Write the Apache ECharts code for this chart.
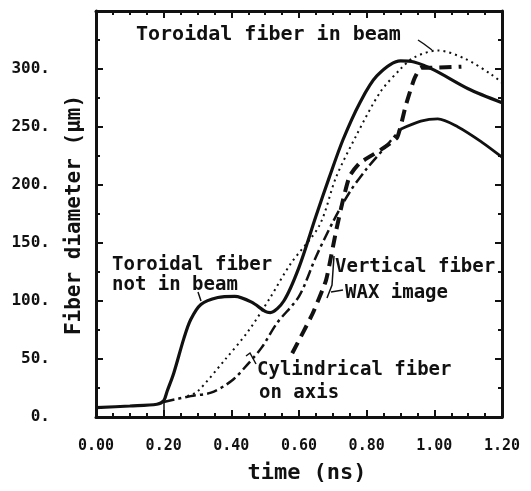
<!DOCTYPE html>
<html>
<head>
<meta charset="utf-8">
<script src="https://cdn.jsdelivr.net/npm/echarts@6/dist/echarts.min.js"></script>
<style>
  html, body { margin: 0; padding: 0; background: #fff; }
  #chart { width: 531px; height: 491px; }
</style>
</head>
<body>
<div id="chart"></div>
<script>
// tick labels
const xTicks = [0, 0.2, 0.4, 0.6, 0.8, 1.0, 1.2];
const yTicks = [0, 50, 100, 150, 200, 250, 300];

// Toroidal fiber not in beam (solid)
const notInBeamT = [0, 0.1, 0.18, 0.2, 0.21, 0.23, 0.26, 0.28, 0.31, 0.36, 0.41, 0.46, 0.5, 0.515, 0.555, 0.6, 0.65, 0.69, 0.73, 0.78, 0.83, 0.9, 0.94, 1.0, 1.1, 1.2];
const notInBeamD = [8, 9.5, 11, 14, 22, 38, 68, 84, 97, 103, 104, 99, 91, 90, 100, 129, 173, 207, 239, 271, 294, 307, 306, 299, 283, 271];

// Toroidal fiber in beam (dotted)
const inBeamT = [0.27, 0.3, 0.38, 0.45, 0.515, 0.575, 0.66, 0.71, 0.77, 0.84, 0.9, 0.94, 1.01, 1.09, 1.17, 1.2];
const inBeamD = [18, 22, 49, 74, 103, 132, 165, 207, 243, 280, 300, 310, 316, 309, 295, 288];

// Cylindrical fiber on axis (dash-dot, then solid)
const cylT = [0.2, 0.28, 0.34, 0.4, 0.45, 0.49, 0.535, 0.6, 0.65, 0.7, 0.75, 0.8, 0.85, 0.9];
const cylD = [13, 18, 21, 31, 46, 60, 81, 104, 138, 168, 194, 214, 231, 248];
const cylEndT = [0.9, 0.96, 1.01, 1.07, 1.14, 1.2];
const cylEndD = [248, 255, 257, 250, 237, 224];

// Vertical fiber WAX image (heavy dashes)
const waxT = [0.58, 0.64, 0.68, 0.71, 0.73, 0.75, 0.78, 0.84, 0.89, 0.915, 0.94, 0.96, 0.99, 1.08];
const waxD = [55, 89, 118, 161, 187, 208, 219, 230, 241, 268, 291, 301, 301, 302];

const zip = (t, d) => t.map((v, i) => [v, d[i]]);

const chart = echarts.init(document.getElementById('chart'));
const ink = '#111';
const txtFont = 'DejaVu Sans Mono';

const baseAxis = {
    type: 'value',
    axisLine: { show: true, onZero: false, lineStyle: { color: ink, width: 3 } },
    axisTick: { show: true, inside: true, length: 7, lineStyle: { color: ink, width: 2 } },
    minorTick: { show: true, length: 4, lineStyle: { color: ink, width: 2 } },
    splitLine: { show: false },
    minorSplitLine: { show: false }
};

chart.setOption({
    backgroundColor: '#fff',
    animation: false,
    grid: { left: 96, right: 29, top: 11, bottom: 74 },
    xAxis: [
        Object.assign({}, baseAxis, {
            position: 'bottom', min: 0, max: 1.2, interval: 0.2,
            minorTick: Object.assign({}, baseAxis.minorTick, { splitNumber: 4 }),
            axisLabel: {
                margin: 22, color: ink, fontFamily: txtFont, fontWeight: 'bold', fontSize: 15,
                formatter: v => xTicks.some(t => Math.abs(t - v) < 1e-6) ? v.toFixed(2) : ''
            }
        }),
        Object.assign({}, baseAxis, {
            position: 'top', min: 0, max: 1.2, interval: 0.2,
            minorTick: Object.assign({}, baseAxis.minorTick, { splitNumber: 4 }),
            axisLabel: { show: false }
        })
    ],
    yAxis: [
        Object.assign({}, baseAxis, {
            position: 'left', min: 0, max: 350, interval: 50,
            minorTick: Object.assign({}, baseAxis.minorTick, { splitNumber: 2 }),
            axisLabel: {
                margin: 46, color: ink, fontFamily: txtFont, fontWeight: 'bold', fontSize: 16,
                showMaxLabel: false,
                formatter: v => yTicks.includes(v) ? v + '.' : ''
            }
        }),
        Object.assign({}, baseAxis, {
            position: 'right', min: 0, max: 350, interval: 50,
            minorTick: Object.assign({}, baseAxis.minorTick, { splitNumber: 2 }),
            axisLabel: { show: false }
        })
    ],
    series: [
        {
            name: 'Toroidal fiber not in beam', type: 'line', smooth: 0.3, symbol: 'none',
            data: zip(notInBeamT, notInBeamD),
            lineStyle: { color: ink, width: 3.2 }
        },
        {
            name: 'Toroidal fiber in beam', type: 'line', smooth: 0.3, symbol: 'none',
            data: zip(inBeamT, inBeamD),
            lineStyle: { color: ink, width: 2, type: [2, 4] }
        },
        {
            name: 'Cylindrical fiber on axis', type: 'line', smooth: 0.3, symbol: 'none',
            data: zip(cylT, cylD),
            lineStyle: { color: ink, width: 2.5, type: [11, 4, 3, 4] }
        },
        {
            name: 'Cylindrical fiber on axis (end)', type: 'line', smooth: 0.3, symbol: 'none',
            data: zip(cylEndT, cylEndD),
            lineStyle: { color: ink, width: 2.8 }
        },
        {
            name: 'Vertical fiber WAX image', type: 'line', smooth: 0.15, symbol: 'none',
            data: zip(waxT, waxD),
            lineStyle: { color: ink, width: 4, type: [12, 7] }
        }
    ],
    graphic: [
        // axis titles
        { type: 'text', x: 75, y: 215, rotation: Math.PI / 2,
          style: { text: 'Fiber diameter (μm)', font: 'bold 21px "DejaVu Sans Mono"', fill: ink, align: 'center', verticalAlign: 'middle' } },
        { type: 'text', x: 307, y: 473,
          style: { text: 'time (ns)', font: 'bold 22px "DejaVu Sans Mono"', fill: ink, align: 'center', verticalAlign: 'middle' } },
        // curve labels
        { type: 'text', x: 136, y: 35,
          style: { text: 'Toroidal fiber in beam', font: 'bold 20px "DejaVu Sans Mono"', fill: ink, verticalAlign: 'middle' } },
        { type: 'text', x: 112, y: 265,
          style: { text: 'Toroidal fiber', font: 'bold 19px "DejaVu Sans Mono"', fill: ink, verticalAlign: 'middle' } },
        { type: 'text', x: 112, y: 285,
          style: { text: 'not in beam', font: 'bold 19px "DejaVu Sans Mono"', fill: ink, verticalAlign: 'middle' } },
        { type: 'text', x: 335, y: 267,
          style: { text: 'Vertical fiber', font: 'bold 19px "DejaVu Sans Mono"', fill: ink, verticalAlign: 'middle' } },
        { type: 'text', x: 345, y: 293,
          style: { text: 'WAX image', font: 'bold 19px "DejaVu Sans Mono"', fill: ink, verticalAlign: 'middle' } },
        { type: 'text', x: 257, y: 370,
          style: { text: 'Cylindrical fiber', font: 'bold 19px "DejaVu Sans Mono"', fill: ink, verticalAlign: 'middle' } },
        { type: 'text', x: 259, y: 393,
          style: { text: 'on axis', font: 'bold 19px "DejaVu Sans Mono"', fill: ink, verticalAlign: 'middle' } },
        // leaders
        { type: 'polyline', shape: { points: [[418, 40], [424, 44], [432, 50]] }, style: { stroke: ink, lineWidth: 1.5, fill: null } },
        { type: 'polyline', shape: { points: [[198, 292], [201, 301]] }, style: { stroke: ink, lineWidth: 1.5, fill: null } },
        { type: 'polyline', shape: { points: [[334, 256], [332, 285], [327, 298]] }, style: { stroke: ink, lineWidth: 1.5, fill: null } },
        { type: 'polyline', shape: { points: [[331, 292], [343, 290]] }, style: { stroke: ink, lineWidth: 1.5, fill: null } },
        { type: 'polyline', shape: { points: [[246, 356], [250, 353], [256, 364]] }, style: { stroke: ink, lineWidth: 1.5, fill: null } },
        { type: 'line', shape: { x1: 164, y1: 402, x2: 164, y2: 416 }, style: { stroke: ink, lineWidth: 1.5 } }
    ]
});
</script>
</body>
</html>
